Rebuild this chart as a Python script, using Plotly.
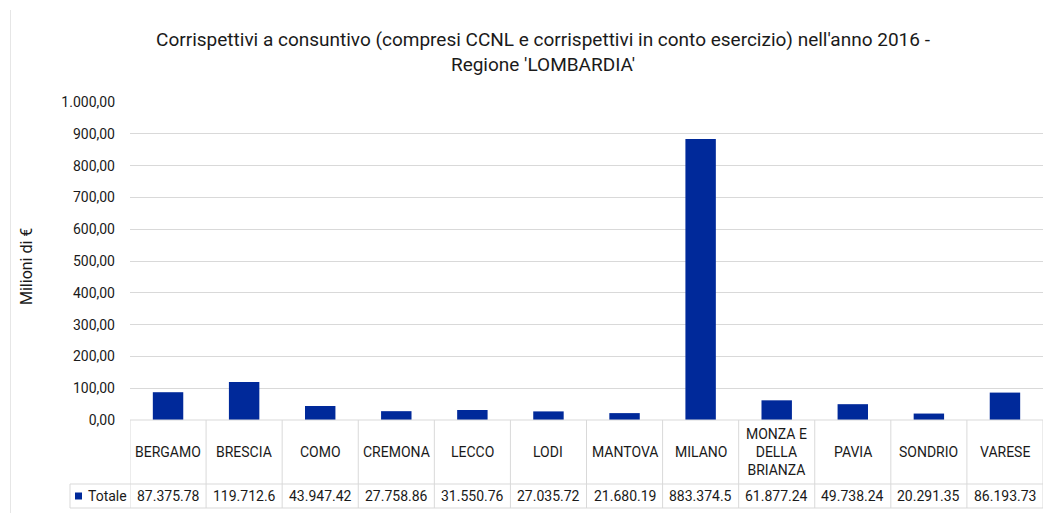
import plotly.graph_objects as go

# ---- data ----
categories = ["BERGAMO", "BRESCIA", "COMO", "CREMONA", "LECCO", "LODI", "MANTOVA",
              "MILANO", "MONZA E DELLA BRIANZA", "PAVIA", "SONDRIO", "VARESE"]
category_labels = ["BERGAMO", "BRESCIA", "COMO", "CREMONA", "LECCO", "LODI", "MANTOVA",
                   "MILANO", "MONZA E<br>DELLA<br>BRIANZA", "PAVIA", "SONDRIO", "VARESE"]
values = [87.37578, 119.7126, 43.94742, 27.75886, 31.55076, 27.03572, 21.68019,
          883.3745, 61.87724, 49.73824, 20.29135, 86.19373]
table_labels = ["87.375.78", "119.712.6", "43.947.42", "27.758.86", "31.550.76", "27.035.72",
                "21.680.19", "883.374.5", "61.877.24", "49.738.24", "20.291.35", "86.193.73"]
series_name = "Totale"
y_ticks = [0, 100, 200, 300, 400, 500, 600, 700, 800, 900, 1000]
title = "Corrispettivi a consuntivo (compresi CCNL e corrispettivi in conto esercizio) nell'anno 2016 -<br>Regione 'LOMBARDIA'"
y_title = "Milioni di €"

# ---- layout constants (pixels) ----
W, H = 1049, 513
L, R, T, B = 130, 6, 102, 93
PH = H - T - B
PW = W - L - R
ROW1 = 64
ROW2 = 24
LEG_LEFT = 70
BAR_COLOR = "#00299A"
GRID = "#d9d9d9"
TXT = "#1a1a1a"
FONT = "Roboto, sans-serif"
FS = 14

n = len(categories)
x = list(range(n))

fig = go.Figure()
fig.add_trace(go.Bar(x=x, y=values, name=series_name, marker_color=BAR_COLOR,
                     marker_line_width=0, width=0.4, showlegend=False))

y1 = -ROW1 / PH
y2 = -(ROW1 + ROW2) / PH
line = dict(color=GRID, width=1)
shapes = []
for i in range(n + 1):
    shapes.append(dict(type="line", xref="x", yref="paper", x0=i - 0.5, x1=i - 0.5,
                       y0=0, y1=y2, line=line))
xl = (LEG_LEFT - L) / PW
shapes.append(dict(type="line", xref="paper", yref="paper", x0=xl, x1=xl, y0=y1, y1=y2, line=line))
for yy in (y1, y2):
    shapes.append(dict(type="line", xref="paper", yref="paper", x0=xl, x1=1, y0=yy, y1=yy, line=line))
shapes.append(dict(type="line", xref="paper", yref="paper", x0=0, x1=1, y0=0, y1=0, line=line))
# chart-area left border
bx = (10.5 - L) / PW
shapes.append(dict(type="line", xref="paper", yref="paper", x0=bx, x1=bx,
                   y0=(H - 10 - B) / PH, y1=-B / PH, line=dict(color="#e6e6e6", width=1)))
# legend key
ky = (y1 + y2) / 2
shapes.append(dict(type="rect", xref="paper", yref="paper",
                   x0=(75 - L) / PW, x1=(82 - L) / PW,
                   y0=ky - 3.5 / PH, y1=ky + 3.5 / PH,
                   fillcolor=BAR_COLOR, line=dict(width=0)))

annotations = []
for i in range(n):
    annotations.append(dict(x=i, y=y1 / 2, xref="x", yref="paper", text=category_labels[i],
                            xanchor="center", yanchor="middle",
                            showarrow=False, font=dict(size=FS, color=TXT), align="center"))
    annotations.append(dict(x=i, y=ky, xref="x", yref="paper", text=table_labels[i],
                            xanchor="center", yanchor="middle",
                            showarrow=False, font=dict(size=FS, color=TXT)))
annotations.append(dict(x=(86 - L) / PW, y=ky, xref="paper", yref="paper", text=series_name,
                        xanchor="left", yanchor="middle", showarrow=False,
                        font=dict(size=FS, color=TXT)))
annotations.append(dict(x=(26 - L) / PW, y=(H - B - 267) / PH,
                        xref="paper", yref="paper", text=y_title,
                        xanchor="center", yanchor="middle",
                        textangle=-90, showarrow=False, font=dict(size=16, color=TXT)))

fig.update_layout(
    width=W, height=H,
    margin=dict(l=L, r=R, t=T, b=B, autoexpand=False),
    paper_bgcolor="white", plot_bgcolor="white",
    font=dict(family=FONT, color=TXT),
    separators=",.",
    title=dict(text=title, x=543 / W, xanchor="center", y=1 - 46 / H, yanchor="top",
               font=dict(size=19, color=TXT)),
    xaxis=dict(range=[-0.5, n - 0.5], showticklabels=False, showgrid=False,
               zeroline=False, showline=False, fixedrange=True, automargin=False),
    yaxis=dict(range=[0, 1000], tickvals=y_ticks, tickformat=",.2f", showgrid=True,
               gridcolor=GRID, gridwidth=1, zeroline=False, showline=False, automargin=False,
               ticks="", ticklabelstandoff=14, tickfont=dict(size=FS, color=TXT)),
    shapes=shapes, annotations=annotations,
)

fig.write_html("out.html", config={"displayModeBar": False},
               post_script="document.body.style.margin='0';")
